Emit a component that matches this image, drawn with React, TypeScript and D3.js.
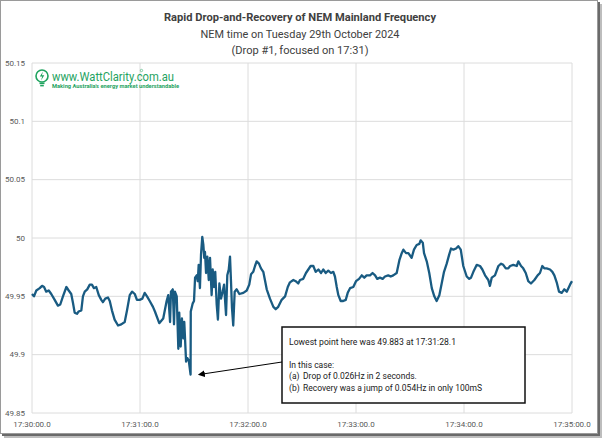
import React from "react";
import * as d3 from "d3";

// seconds after 17:30:00.0 , frequency Hz
const readings: [number, number][] = [
  [0, 49.952], [1.1, 49.95], [2.4, 49.955], [4.3, 49.957], [5.6, 49.959], [6.7, 49.958], [7.9, 49.954], [9.3, 49.955], [10.7, 49.952], [12.6, 49.947],
  [14.4, 49.942], [15.7, 49.943], [17.2, 49.95], [19.1, 49.958], [20.4, 49.955], [21.8, 49.952], [22.8, 49.944], [23.7, 49.936], [25.0, 49.935], [25.9, 49.937],
  [27.4, 49.938], [28.3, 49.95], [29.3, 49.954], [30.7, 49.956], [32.1, 49.96], [33.3, 49.96], [34.4, 49.957], [35.7, 49.958], [37.1, 49.951], [38.5, 49.947],
  [39.4, 49.945], [40.7, 49.948], [42.2, 49.949], [43.2, 49.946], [44.4, 49.938], [45.9, 49.93], [47.8, 49.925], [49.6, 49.926], [51.5, 49.928], [52.8, 49.938],
  [54.3, 49.951], [55.6, 49.954], [57.1, 49.952], [58.3, 49.947], [59.8, 49.947], [61.3, 49.948], [62.6, 49.953], [63.9, 49.95], [65.4, 49.946],
  [67.2, 49.941], [68.3, 49.937], [70.7, 49.927], [72.9, 49.931], [74.8, 49.946], [75.7, 49.951], [76.7, 49.928], [77.2, 49.954], [78.2, 49.956], [78.9, 49.926],
  [79.4, 49.954], [80.4, 49.95], [81.3, 49.905], [81.8, 49.936], [82.6, 49.907], [83.3, 49.931], [84.1, 49.914], [84.6, 49.928], [85.6, 49.894], [86.3, 49.897],
  [87.1, 49.895], [88.1, 49.883], [88.2, 49.937], [89.3, 49.944], [90.0, 49.946], [90.6, 49.966], [91.5, 49.968], [92.1, 49.963], [92.6, 49.977], [93.3, 49.957],
  [93.9, 49.986], [94.6, 50.001], [95.2, 49.994], [95.7, 49.983], [96.1, 49.988], [96.7, 49.97], [97.4, 49.984], [98.2, 49.964], [98.9, 49.983], [99.8, 49.951],
  [100.4, 49.973], [101.1, 49.958], [101.8, 49.971], [102.6, 49.943], [103.3, 49.93], [104.1, 49.961], [105.0, 49.948], [105.9, 49.954], [106.7, 49.96], [107.8, 49.934],
  [108.5, 49.968], [109.3, 49.973], [110.0, 49.984], [110.6, 49.961], [111.1, 49.94], [111.8, 49.925], [112.6, 49.954], [113.7, 49.956], [115.2, 49.952], [117.4, 49.953],
  [119.3, 49.955], [120.7, 49.96],
  [121.7, 49.969], [122.9, 49.971], [123.9, 49.976], [124.8, 49.98], [126.1, 49.978], [127.2, 49.974], [128.5, 49.971], [129.4, 49.964], [130.4, 49.956], [132.2, 49.948],
  [134.1, 49.941], [135.4, 49.939], [136.8, 49.941], [138.7, 49.947], [140.6, 49.95], [142.1, 49.958], [143.3, 49.962], [145.2, 49.964], [146.5, 49.963], [147.9, 49.961],
  [148.9, 49.964], [150.7, 49.965], [152.2, 49.97], [153.5, 49.973], [154.8, 49.976], [156.3, 49.976], [157.6, 49.971], [159.1, 49.973], [160.6, 49.97], [161.8, 49.973],
  [163.2, 49.97], [164.6, 49.972], [166.1, 49.97], [167.4, 49.971], [168.3, 49.967], [169.3, 49.958], [170.2, 49.951], [171.5, 49.946], [172.9, 49.946], [174.3, 49.947],
  [175.4, 49.953], [176.7, 49.957], [178.5, 49.958], [180.0, 49.963], [181.7, 49.965], [183.2, 49.968], [184.6, 49.966], [185.9, 49.968], [187.8, 49.968], [189.2, 49.97],
  [190.6, 49.968], [191.8, 49.965], [193.3, 49.966], [194.8, 49.965], [196.1, 49.967], [197.9, 49.968], [199.3, 49.967], [200.7, 49.968], [202.6, 49.97], [204.1, 49.981],
  [205.4, 49.987], [206.3, 49.99], [207.8, 49.987], [209.1, 49.987], [210.9, 49.983], [212.2, 49.99], [213.7, 49.994], [215.2, 49.995], [215.9, 49.998], [217.1, 49.996],
  [217.8, 49.987], [219.3, 49.98], [220.7, 49.97], [222.1, 49.957], [223.5, 49.95], [224.8, 49.946], [226.3, 49.951], [227.6, 49.961], [228.9, 49.971], [230.4, 49.978],
  [231.8, 49.986], [232.8, 49.991], [234.1, 49.99], [235.6, 49.991], [236.8, 49.993], [238.2, 49.99], [239.6, 49.976], [241.5, 49.967], [242.9, 49.965],
  [243.9, 49.966], [245.2, 49.971], [247.1, 49.977], [248.9, 49.976], [250.2, 49.973], [251.7, 49.968], [253.5, 49.964], [254.4, 49.959], [255.4, 49.966], [257.2, 49.968],
  [259.1, 49.976], [260.6, 49.978], [261.8, 49.977], [263.2, 49.974], [264.6, 49.974], [265.6, 49.976], [267.4, 49.977], [269.3, 49.976], [270.2, 49.98], [271.7, 49.976],
  [272.9, 49.974], [274.3, 49.97], [275.7, 49.963], [277.2, 49.961], [279.1, 49.964], [280.9, 49.968], [282.2, 49.97], [283.5, 49.976], [284.6, 49.974], [285.9, 49.974],
  [287.8, 49.973], [289.1, 49.971], [290.2, 49.968], [291.5, 49.962], [292.8, 49.954], [294.3, 49.953], [295.7, 49.956], [297.1, 49.954], [298.9, 49.96], [300, 49.963],
];

const yTicks = [49.85, 49.9, 49.95, 50, 50.05, 50.1, 50.15];
const yTickLabels = ["49.85", "49.9", "49.95", "50", "50.05", "50.1", "50.15"];
const xTicks = [0, 60, 120, 180, 240, 300];
const xTickLabels = ["17:30:00.0", "17:31:00.0", "17:32:00.0", "17:33:00.0", "17:34:00.0", "17:35:00.0"];

const titleLines = [
  "Rapid Drop-and-Recovery of NEM Mainland Frequency",
  "NEM time on Tuesday 29th October 2024",
  "(Drop #1, focused on 17:31)",
];
// [prefix, text]
const noteLines: [string, string][] = [
  ["", "Lowest point here was 49.883 at 17:31:28.1"],
  ["", ""],
  ["", "In this case:"],
  ["(a)", "Drop of 0.026Hz in 2 seconds."],
  ["(b)", "Recovery was a jump of 0.054Hz in only 100mS"],
];
const lowestPoint: [number, number] = [88.1, 49.883];

export default function App() {
  const W = 604, H = 439;
  const x = d3.scaleLinear().domain([0, 300]).range([32, 572]);
  const y = d3.scaleLinear().domain([49.85, 50.15]).range([413, 63]);
  const line = d3.line<[number, number]>().x(d => x(d[0])).y(d => y(d[1]));
  const font = "Roboto, 'Open Sans', sans-serif";
  const green = "#1fa35f";
  const tipX = x(lowestPoint[0]) + 8.5;
  const tipY = y(lowestPoint[1]);
  return (
    <svg width={W} height={H} style={{ position: "absolute", left: 0, top: 0 }} fontFamily={font}>
      <defs>
        <marker id="ah" viewBox="0 0 10 10" refX="1" refY="5" markerWidth="7" markerHeight="7" orient="auto-start-reverse">
          <path d="M0,0 L10,5 L0,10 z" fill="#000" />
        </marker>
      </defs>
      <rect x={0} y={0} width={W} height={H} fill="#fff" />
      {/* frame with shadow */}
      <rect x={4} y={4} width={598} height={434} fill="#bdbdbd" />
      <rect x={2} y={2} width={598} height={434} fill="#6a6a6a" />
      <rect x={0.5} y={0.5} width={597} height={433} fill="#fff" stroke="#9a9a9a" />

      {titleLines.map((t, i) => (
        <text key={i} x={300} y={21 + i * 16.5} textAnchor="middle" fontSize={11.5}
          fontWeight={i === 0 ? 700 : 400} fill="#404040"
          textLength={[272, 199, 137][i]} lengthAdjust="spacingAndGlyphs">{t}</text>
      ))}

      {/* grid */}
      {yTicks.map(v => (
        <line key={"gy" + v} x1={x(0)} x2={x(300)} y1={y(v)} y2={y(v)} stroke="#dcdcdc" strokeWidth={1} />
      ))}
      {xTicks.map(t => (
        <line key={"gx" + t} x1={x(t)} x2={x(t)} y1={y(49.85)} y2={y(50.15)} stroke="#dcdcdc" strokeWidth={1} />
      ))}
      {yTicks.map((v, i) => (
        <text key={"ly" + v} x={25} y={y(v) + 2.8} textAnchor="end" fontSize={8} fill="#595959">{yTickLabels[i]}</text>
      ))}
      {xTicks.map((t, i) => (
        <text key={"lx" + t} x={x(t)} y={427} textAnchor="middle" fontSize={8} fill="#595959">{xTickLabels[i]}</text>
      ))}

      {/* logo */}
      <g>
        <circle cx={42} cy={76} r={6} fill="none" stroke={green} strokeWidth={1.6} />
        <path d="M43,71.5 L39.8,76.6 L42.2,76.6 L41,80.5 L44.3,75.2 L41.9,75.2 Z" fill={green} />
        <rect x={39.5} y={82.5} width={5} height={1.6} fill={green} />
        <rect x={40.2} y={84.8} width={3.6} height={1.6} fill={green} />
        <text x={52} y={80.5} fontSize={12} fill={green} textLength={122} lengthAdjust="spacingAndGlyphs">www.WattClarity.com.au</text>
        <circle cx={141.5} cy={70.5} r={1.2} fill="none" stroke={green} strokeWidth={0.5} />
        <text x={52} y={87.5} fontSize={5} fontWeight={700} fill={green} textLength={127} lengthAdjust="spacingAndGlyphs">Making Australia's energy market understandable</text>
      </g>

      <path d={line(readings) || ""} fill="none" stroke="#195b82" strokeWidth={2.3} strokeLinejoin="round" />

      {/* annotation */}
      <rect x={282} y={327} width={243} height={76} fill="#fff" stroke="#111" strokeWidth={1.5} />
      {noteLines.map(([p, t], i) => (
        <g key={"n" + i}>
          {p && <text x={289} y={344.5 + i * 11.6} fontSize={8.5} fill="#1a1a1a">{p}</text>}
          {t && (
            <text x={p ? 303 : 289} y={344.5 + i * 11.6} fontSize={8.5} fill="#1a1a1a"
              textLength={i === 0 ? 167 : i === 4 ? 179 : undefined}
              lengthAdjust="spacingAndGlyphs">{t}</text>
          )}
        </g>
      ))}
      <line x1={282} y1={362} x2={tipX + 5} y2={tipY - 0.7} stroke="#000" strokeWidth={1} markerEnd="url(#ah)" />
    </svg>
  );
}
